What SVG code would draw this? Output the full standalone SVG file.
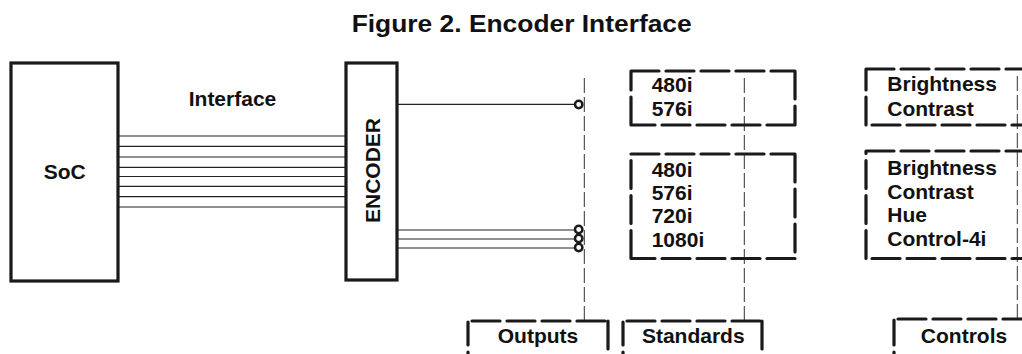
<svg xmlns="http://www.w3.org/2000/svg" width="1022" height="354" viewBox="0 0 1022 354">
<style>
text { font-family: "Liberation Sans", Arial, sans-serif; font-weight: bold; fill: #111; }
.t { font-size: 21px; }
.title { font-size: 23px; }
.mid { text-anchor: middle; }
.box { fill: #fff; stroke: #1a1a1a; stroke-width: 3.2; }
.wire { stroke: #222; stroke-width: 1.2; fill: none; }
.port { fill: #fff; stroke: #1a1a1a; stroke-width: 2.5; }
.dbox { fill: none; stroke: #1a1a1a; stroke-width: 3.2; stroke-dasharray: 28 7; stroke-linecap: round; }
.guide { stroke: #333; stroke-width: 1; stroke-dasharray: 15 4; fill: none; }
</style>

<text class="title mid" x="521.7" y="32" textLength="340" lengthAdjust="spacingAndGlyphs">Figure 2. Encoder Interface</text>

<g id="connectors">
  <g class="wire">
    <path d="M118 136H346M118 146.3H346M118 157H346M118 167.3H346M118 176.5H346M118 186.3H346M118 196.7H346M118 207H346"/>
    <path d="M397 104.3H575M397 230H575M397 239H575M397 248H575"/>
  </g>
  <g class="guide">
    <path d="M584.3 78V321"/>
    <path d="M744.3 78V321"/>
    <path d="M1017.3 76V319"/>
  </g>
</g>

<g id="soc">
  <rect class="box" x="11" y="63" width="107" height="218"/>
  <text class="t mid" x="64.7" y="179">SoC</text>
</g>

<text id="interface-label" class="t mid" x="232.5" y="106">Interface</text>

<g id="encoder">
  <rect class="box" x="346" y="63" width="51" height="217"/>
  <text class="t mid" transform="translate(380 170.5) rotate(-90)" x="0" y="0">ENCODER</text>
</g>

<g id="ports">
  <circle class="port" cx="578.7" cy="104.5" r="3.7"/>
  <circle class="port" cx="578.7" cy="229.5" r="3.7"/>
  <circle class="port" cx="578.7" cy="238.5" r="3.7"/>
  <circle class="port" cx="578.7" cy="247.5" r="3.7"/>
</g>

<g id="standards-1">
  <path class="dbox" d="M631 71H795M795 71V125M795 125H631M631 125V71"/>
  <text class="t" x="651.7" y="92">480i</text>
  <text class="t" x="651.7" y="116">576i</text>
</g>

<g id="standards-2">
  <path class="dbox" d="M631 154H795M795 154V258.5M795 258.5H631M631 258.5V154"/>
  <text class="t" x="651.7" y="176.7">480i</text>
  <text class="t" x="651.7" y="200">576i</text>
  <text class="t" x="651.7" y="223.3">720i</text>
  <text class="t" x="651.7" y="247.3">1080i</text>
</g>

<g id="controls-1">
  <path class="dbox" d="M866 69H1040M1040 125H866M866 125V69"/>
  <text class="t" x="887.3" y="90.7">Brightness</text>
  <text class="t" x="887.3" y="115.7">Contrast</text>
</g>

<g id="controls-2">
  <path class="dbox" d="M866 151H1040M1040 258.5H866M866 258.5V151"/>
  <text class="t" x="887.3" y="175">Brightness</text>
  <text class="t" x="887.3" y="199">Contrast</text>
  <text class="t" x="887.3" y="222.3">Hue</text>
  <text class="t" x="887.3" y="246">Control-4i</text>
</g>

<g id="outputs">
  <path class="dbox" d="M472 321H608M608 321V380M468 380V322"/>
  <text class="t mid" x="538" y="343.3">Outputs</text>
</g>

<g id="standards">
  <path class="dbox" d="M627 321H762M762 321V380M623 380V322"/>
  <text class="t mid" x="693.3" y="343.3">Standards</text>
</g>

<g id="controls">
  <path class="dbox" d="M898 319H1040M894 380V320"/>
  <text class="t mid" x="964" y="343.3">Controls</text>
</g>
</svg>
